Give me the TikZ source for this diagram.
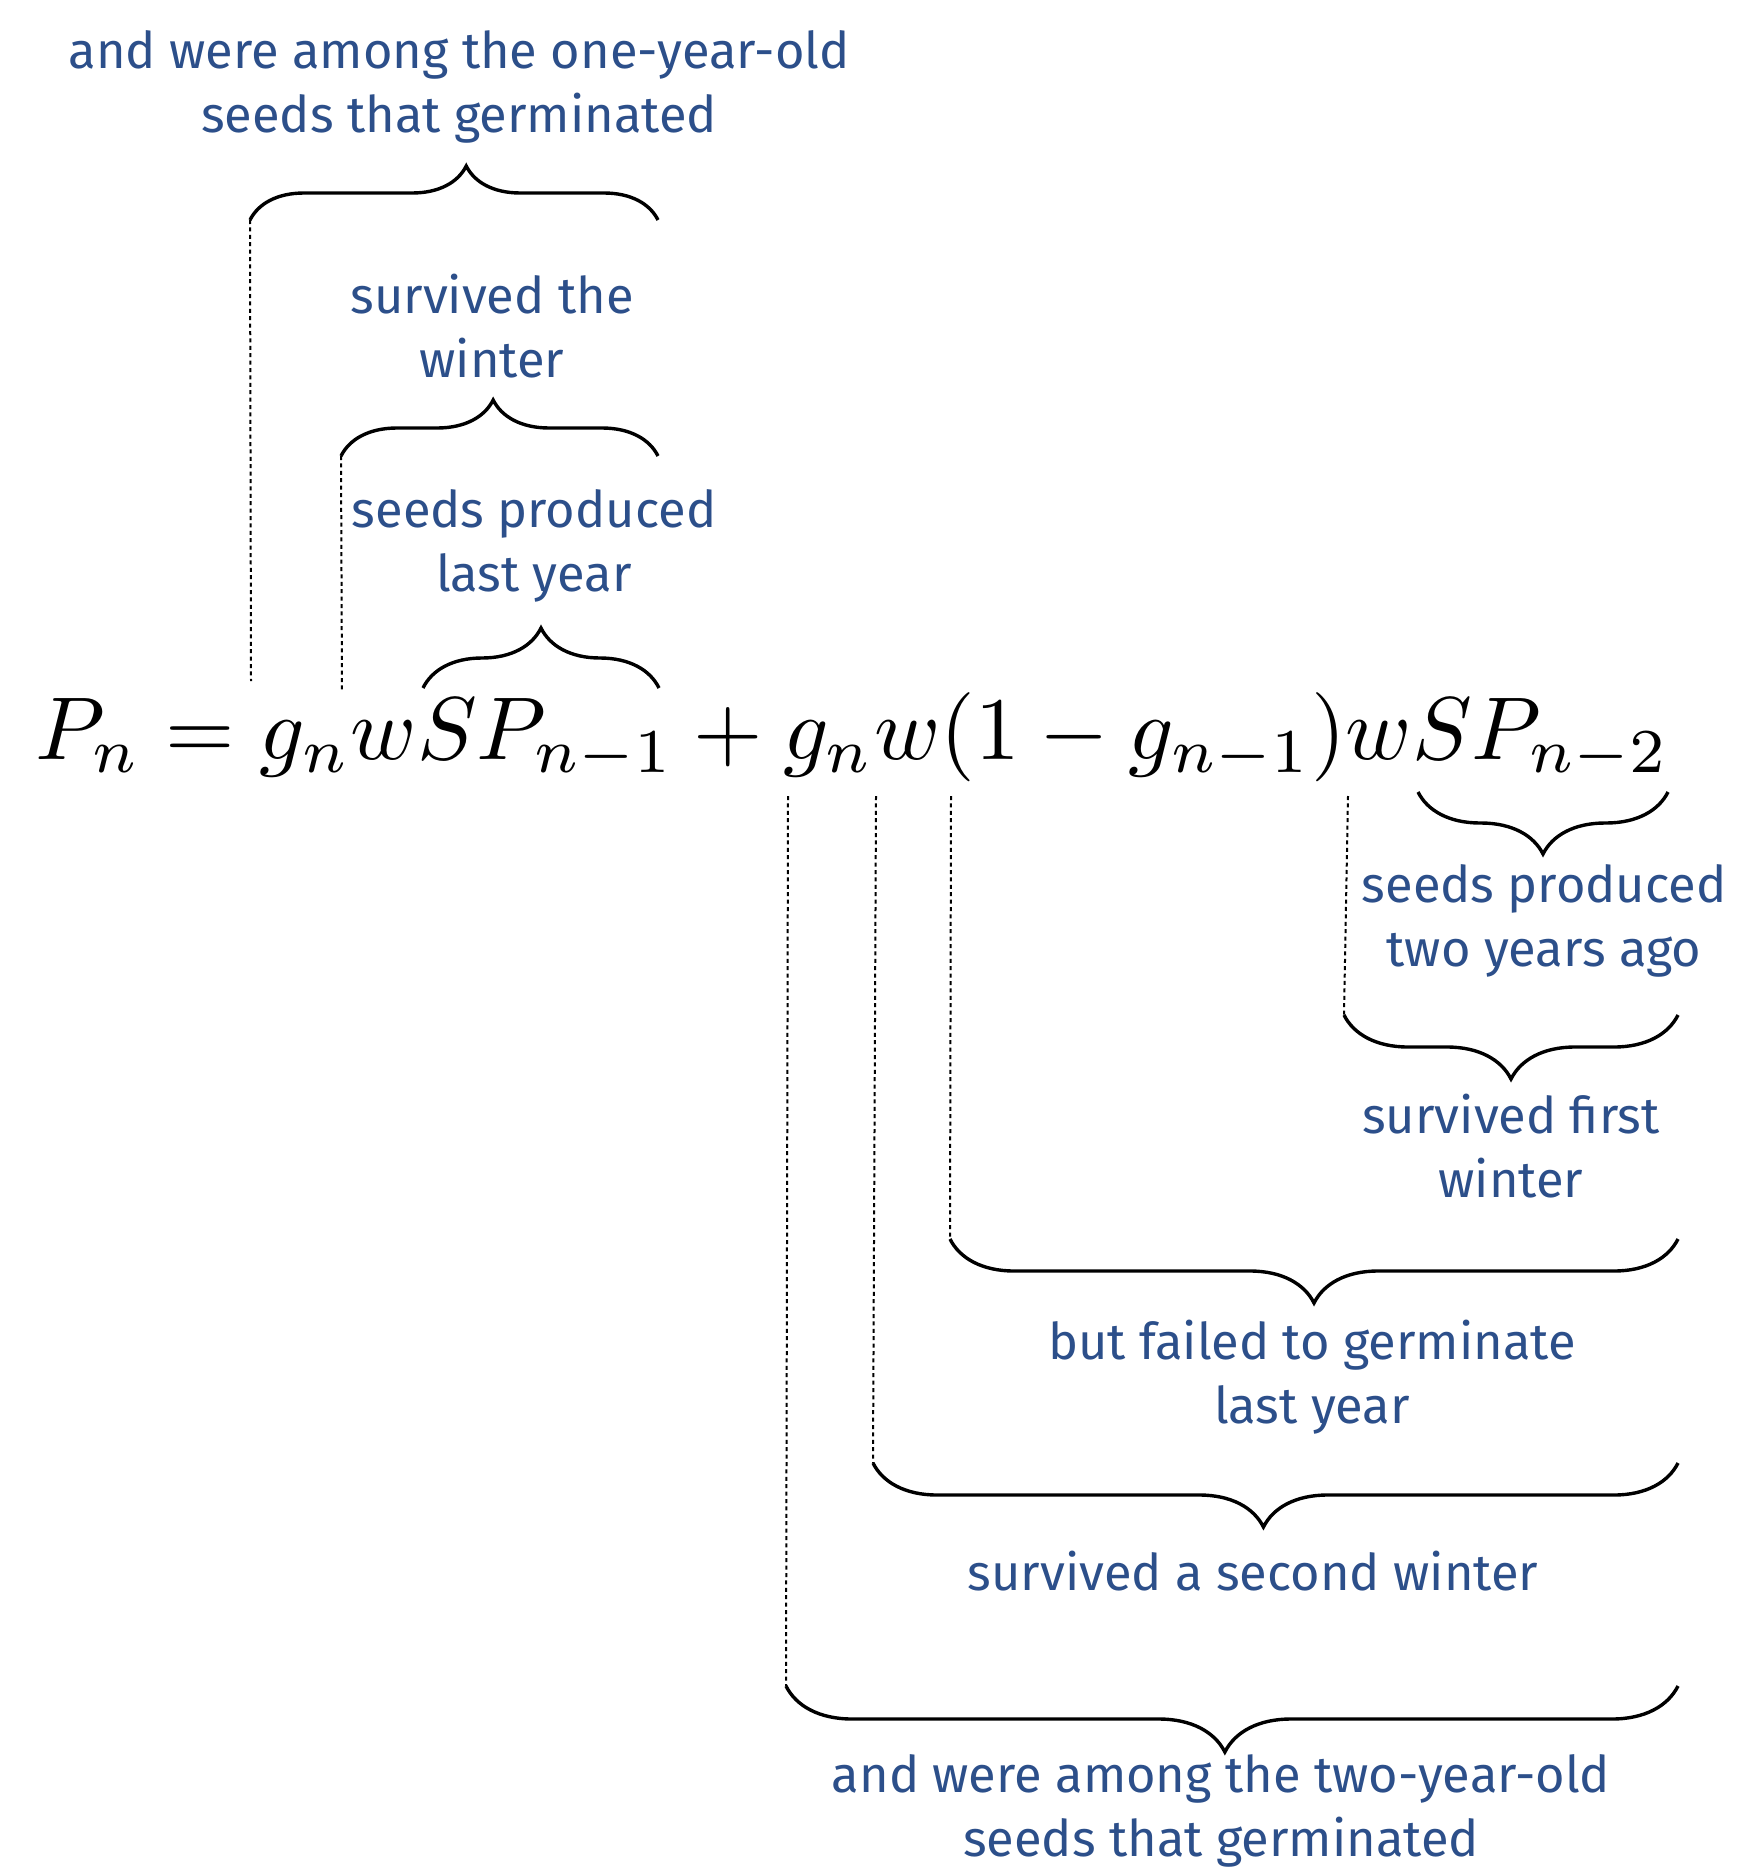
\documentclass[tikz,border=0pt]{standalone}
\usepackage[no-math]{fontspec}
\newfontfamily\lblfont{Fira Sans}
\usetikzlibrary{decorations.pathreplacing}
\definecolor{lab}{RGB}{44,79,138}
\begin{document}
\begin{tikzpicture}[x=0.5pt,y=-0.5pt,
  lbl/.style={text=lab,font=\lblfont\fontsize{25.3}{32}\selectfont,align=center,inner sep=0},
  eqp/.style={inner sep=0,outer sep=0,scale=4.46,anchor=base west},
  brc/.style={decorate,decoration={brace,amplitude=#1},line width=1.7pt},
  brcasp/.style 2 args={decorate,decoration={brace,amplitude=#1,aspect=#2},line width=1.7pt},
  dotl/.style={line width=1pt,dash pattern=on 2pt off 1.7pt}]
\useasboundingbox[fill=white] (0,0) rectangle (1761,1868);
% equation
\node[eqp] (Pn) at (35,759) {$P_n$};
\node[eqp] (eq) at (Pn.base east) {${}={}$};
\node[eqp] (g1) at (eq.base east) {$g_n$};
\node[eqp] (w1) at (g1.base east) {$w$};
\node[eqp] (SP1) at (w1.base east) {$SP_{n-1}$};
\node[eqp] (pl) at (SP1.base east) {${}+{}$};
\node[eqp] (g2) at (pl.base east) {$g_n$};
\node[eqp] (w2) at (g2.base east) {$w$};
\node[eqp] (par) at (w2.base east) {$(1-g_{n-1})$};
\node[eqp] (w3) at (par.base east) {$w$};
\node[eqp] (SP2) at (w3.base east) {$SP_{n-2}$};
% brace end points
\coordinate (b1l) at (250,220);  \coordinate (b1r) at (658,220);
\coordinate (b2l) at (341,456);  \coordinate (b2r) at (658,456);
\coordinate (b3l) at (423,688);  \coordinate (b3r) at (659,688);
\coordinate (b4l) at (1418,792); \coordinate (b4r) at (1668,792);
\coordinate (b5l) at (1344,1015);\coordinate (b5r) at (1678,1015);
\coordinate (b6l) at (950,1239); \coordinate (b6r) at (1678,1239);
\coordinate (b7l) at (873,1463); \coordinate (b7r) at (1678,1463);
\coordinate (b8l) at (786,1686); \coordinate (b8r) at (1678,1686);
% dotted ends near equation
\coordinate (d1) at (251,681);
\coordinate (d2) at (342,691);
\coordinate (d3) at (788,796);
\coordinate (d4) at (876,796);
\coordinate (d5) at (951,796);
\coordinate (d6) at (1348,796);
% braces
\draw[brcasp={27pt}{0.53}] (b1l) -- (b1r);
\draw[brcasp={28pt}{0.48}] (b2l) -- (b2r);
\draw[brc=30pt] (b3l) -- (b3r);
\draw[brc=31pt] (b4r) -- (b4l);
\draw[brc=32pt] (b5r) -- (b5l);
\draw[brc=32pt] (b6r) -- (b6l);
\draw[brcasp={32pt}{0.515}] (b7r) -- (b7l);
\draw[brcasp={33pt}{0.508}] (b8r) -- (b8l);
% dotted lines
\draw[dotl] (b1l) -- (d1);
\draw[dotl] (b2l) -- (d2);
\draw[dotl] (d3) -- (b8l);
\draw[dotl] (d4) -- (b7l);
\draw[dotl] (d5) -- (b6l);
\draw[dotl] (d6) -- (b5l);
% labels
\node[lbl] (L1) at (459,87) {and were among the one-year-old\\seeds that germinated};
\node[lbl] (L2) at (492,326) {survived the\\winter};
\node[lbl] (L3) at (534,546) {seeds produced\\last year};
\node[lbl] (L4) at (1544,921) {seeds produced\\two years ago};
\node[lbl] (L5) at (1511,1146) {survived first\\winter};
\node[lbl] (L6) at (1312,1377) {but failed to germinate\\last year};
\node[lbl] (L7) at (1253,1571) {survived a second winter};
\node[lbl] (L8) at (1221,1811) {and were among the two-year-old\\seeds that germinated};
\end{tikzpicture}
\end{document}
